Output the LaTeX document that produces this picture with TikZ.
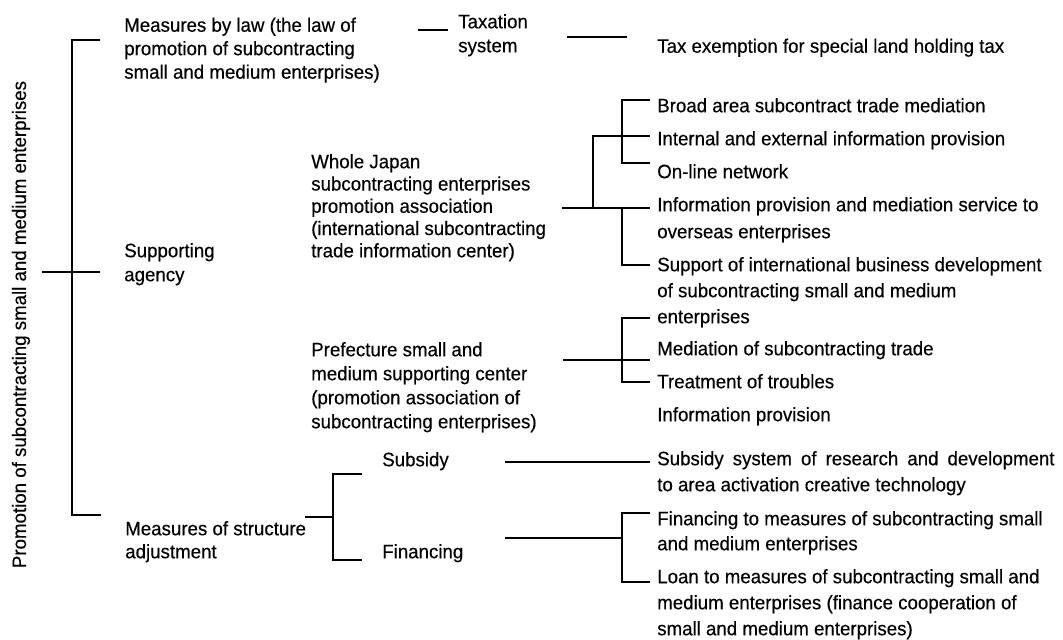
\documentclass[tikz,border=0pt]{standalone}
\usepackage{fontspec}
\setmainfont{Liberation Sans}[FakeStretch=0.96, FakeBold=0.35]
% fixed first-line height so every block hangs from its top edge the same way
\newcommand\topstrut{\rule{0pt}{11pt}}
\begin{document}
\begin{tikzpicture}[x=0.75pt,y=-0.75pt,
  link/.style={line width=1.4pt, line join=miter},
  blk/.style={anchor=north west, inner sep=0pt, align=left,
    font=\fontsize{14.6pt}{#1}\selectfont},
  blk/.default=18pt]
\useasboundingbox (0,0) rectangle (1063,639);

% root label
\node[rotate=90, anchor=base, inner sep=0pt, font=\fontsize{14.6pt}{18pt}\selectfont]
  (root) at (26,324.5) {Promotion of subcontracting small and medium enterprises};

% first level
\node[blk=17.6pt] (law) at (124,16.8) {\topstrut Measures by law (the law of\\promotion of subcontracting\\small and medium enterprises)};
\node[blk] (agency) at (124,242.3) {\topstrut Supporting\\agency};
\node[blk=17.25pt] (struct) at (125,520.3) {\topstrut Measures of structure\\adjustment};

% second level
\node[blk] (tax) at (458,13.3) {\topstrut Taxation\\system};
\node[blk=16.7pt] (wj) at (311,153.3) {\topstrut Whole Japan\\subcontracting enterprises\\promotion association\\(international subcontracting\\trade information center)};
\node[blk] (pref) at (311,341.3) {\topstrut Prefecture small and\\medium supporting center\\(promotion association of\\subcontracting enterprises)};
\node[blk] (subsidy) at (382,451.3) {\topstrut Subsidy};
\node[blk] (financing) at (382,543.3) {\topstrut Financing};

% leaves
\node[blk] (taxex) at (657,37.8) {\topstrut Tax exemption for special land holding tax};
\node[blk] (r1) at (657,97.3) {\topstrut Broad area subcontract trade mediation};
\node[blk] (r2) at (657,130.3) {\topstrut Internal and external information provision};
\node[blk] (r3) at (657,163.3) {\topstrut On-line network};
\node[blk=20.25pt] (r4) at (657,196.3) {\topstrut Information provision and mediation service to\\overseas enterprises};
\node[blk=19.5pt] (r5) at (657,256.3) {\topstrut Support of international business development\\of subcontracting small and medium\\enterprises};
\node[blk] (r6) at (657,340.3) {\topstrut Mediation of subcontracting trade};
\node[blk] (r7) at (657,373.3) {\topstrut Treatment of troubles};
\node[blk] (r8) at (657,406.3) {\topstrut Information provision};
\node[blk=19.5pt] (r9) at (657,450.3) {\topstrut\makebox[298pt][s]{Subsidy system of research and development}\\to area activation creative technology};
\node[blk=18.75pt] (r10) at (657,510.3) {\topstrut Financing to measures of subcontracting small\\and medium enterprises};
\node[blk=19.5pt] (r11) at (657,568.3) {\topstrut Loan to measures of subcontracting small and\\medium enterprises (finance cooperation of\\small and medium enterprises)};

% main bracket
\coordinate (mTopEnd) at (100,40);
\coordinate (mTop) at (72,40);
\coordinate (mBot) at (72,515);
\coordinate (mBotEnd) at (101,515);
\coordinate (mMidL) at (42,272);
\coordinate (mMidR) at (100,272);
\draw[link] (mTopEnd) -- (mTop) -- (mBot) -- (mBotEnd);
\draw[link] (mMidL) -- (mMidR);

% taxation branch
\coordinate (lawA) at (418,30);
\coordinate (lawB) at (448,30);
\coordinate (taxA) at (567,37);
\coordinate (taxB) at (627,37);
\draw[link] (lawA) -- (lawB);
\draw[link] (taxA) -- (taxB);

% whole Japan association
\coordinate (wjA) at (562,208);
\coordinate (wjB) at (650,208);
\coordinate (wjJ) at (593,208);
\coordinate (wjJt) at (593,136);
\coordinate (wjUe) at (650,136);
\coordinate (wjU1) at (650,100);
\coordinate (wjU1c) at (622,100);
\coordinate (wjU3c) at (622,163);
\coordinate (wjU3) at (650,163);
\coordinate (wjLc) at (622,208);
\coordinate (wjL2c) at (622,265);
\coordinate (wjL2) at (650,265);
\draw[link] (wjA) -- (wjB);
\draw[link] (wjJ) -- (wjJt) -- (wjUe);
\draw[link] (wjU1) -- (wjU1c) -- (wjU3c) -- (wjU3);
\draw[link] (wjLc) -- (wjL2c) -- (wjL2);

% prefecture center
\coordinate (pfA) at (563,360);
\coordinate (pfB) at (650,360);
\coordinate (pf1) at (650,318);
\coordinate (pf1c) at (622,318);
\coordinate (pf3c) at (622,382);
\coordinate (pf3) at (650,382);
\draw[link] (pfA) -- (pfB);
\draw[link] (pf1) -- (pf1c) -- (pf3c) -- (pf3);

% structure adjustment
\coordinate (stA) at (305,517);
\coordinate (stB) at (333,517);
\coordinate (st1) at (362,474);
\coordinate (st1c) at (333,474);
\coordinate (st2c) at (333,560);
\coordinate (st2) at (362,560);
\draw[link] (stA) -- (stB);
\draw[link] (st1) -- (st1c) -- (st2c) -- (st2);

% subsidy
\coordinate (sbA) at (505,462);
\coordinate (sbB) at (650,462);
\draw[link] (sbA) -- (sbB);

% financing
\coordinate (fnA) at (505,538);
\coordinate (fnB) at (622,538);
\coordinate (fn1) at (650,513);
\coordinate (fn1c) at (622,513);
\coordinate (fn2c) at (622,582);
\coordinate (fn2) at (650,582);
\draw[link] (fnA) -- (fnB);
\draw[link] (fn1) -- (fn1c) -- (fn2c) -- (fn2);
\end{tikzpicture}
\end{document}
